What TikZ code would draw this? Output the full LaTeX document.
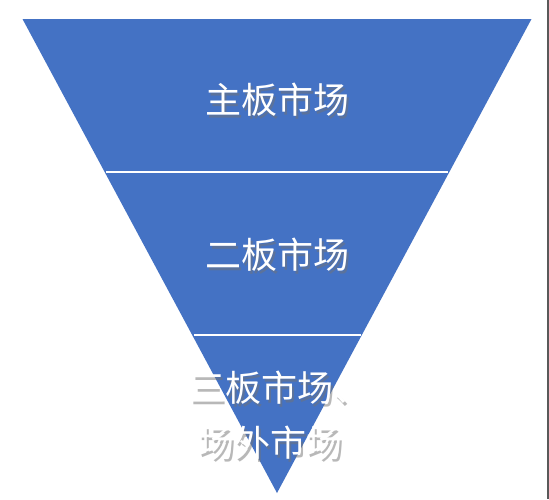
\documentclass[tikz,border=0pt]{standalone}
\usepackage{fontspec}
\newfontfamily\cjk{Noto Sans CJK SC}
\definecolor{tribl}{HTML}{4472C4}
\begin{document}
\begin{tikzpicture}[x=1pt,y=-1pt,
  lbl/.style={text=white,font=\cjk\fontsize{36}{42}\selectfont,inner sep=0pt,anchor=center},
  shd/.style={text=black!55,opacity=0.5,font=\cjk\fontsize{36}{42}\selectfont,inner sep=0pt,anchor=center},
  divider/.style={draw=white,line width=2.2pt}]
\useasboundingbox (0,0) rectangle (549,499);
\fill[white] (0,0) rectangle (549,499);
\coordinate (tl) at (22.5,19);
\coordinate (tr) at (531.5,19);
\coordinate (ap) at (277,493);
\fill[tribl] (tl) -- (tr) -- (ap) -- cycle;
\coordinate (d1l) at (106,172);
\coordinate (d1r) at (448,172);
\coordinate (d2l) at (194,335);
\coordinate (d2r) at (361,335);
\draw[divider] (d1l) -- (d1r);
\draw[divider] (d2l) -- (d2r);
\draw[black!65,line width=1.5pt] (547.8,0) coordinate (el) -- (547.8,499) coordinate (er);
% shadows
\node[shd] (s1) at (279.5,102.5) {主板市场};
\node[shd] (s2) at (279.5,257.5) {二板市场};
\node[shd] (s3) at (281.5,390.5) {三板市场、};
\node[shd] (s4) at (272.5,445.5) {场外市场};
% texts
\node[lbl] (t1) at (277,100) {主板市场};
\node[lbl] (t2) at (277,255) {二板市场};
\node[lbl] (t3) at (279,388) {三板市场、};
\node[lbl] (t4) at (270,443) {场外市场};
\end{tikzpicture}
\end{document}
